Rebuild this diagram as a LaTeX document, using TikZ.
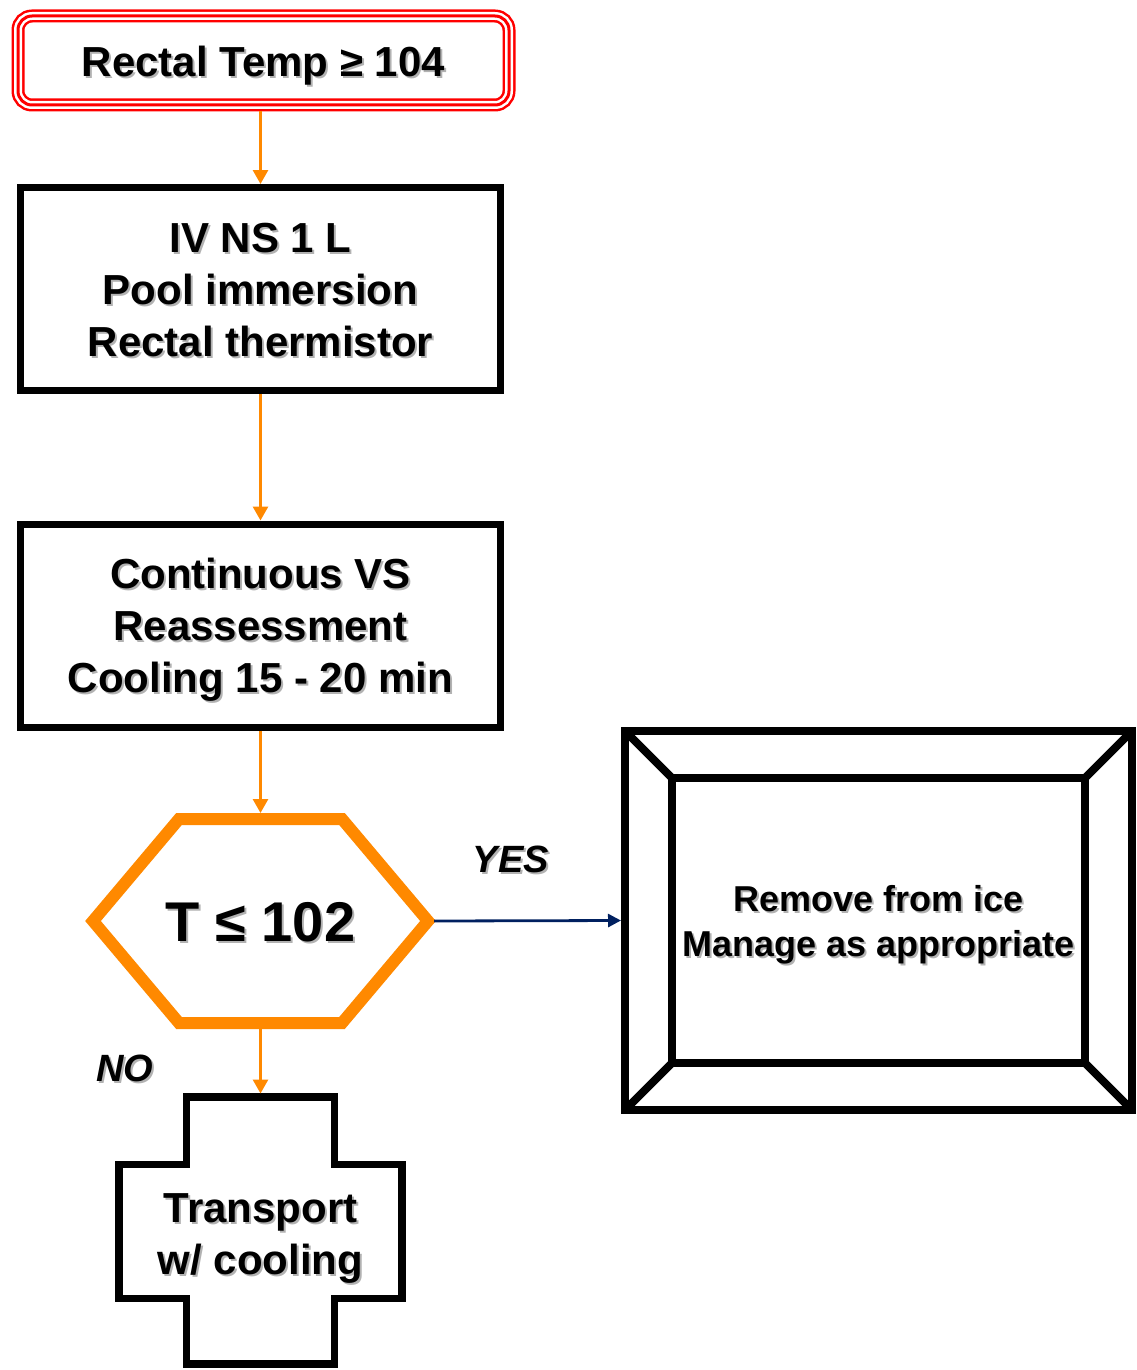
\documentclass[tikz,border=0pt]{standalone}
\usepackage{fontspec}
\setmainfont{Liberation Sans}
\usetikzlibrary{arrows.meta}
\definecolor{flowor}{RGB}{255,137,0}
\definecolor{flownavy}{RGB}{0,32,96}
\definecolor{flowred}{RGB}{255,0,0}
% text with a light drop shadow, optionally lowered
\newcommand\shd[2][0pt]{\leavevmode\raisebox{-#1}[\height][\depth]{\rlap{\kern1pt\raisebox{-1pt}{\color{black!30}#2}}#2}}
\begin{document}
\begin{tikzpicture}[x=.5pt,y=-.5pt,>={Triangle[length=7pt,width=7.5pt]},
  font=\bfseries\fontsize{21}{26}\selectfont,
  box/.style={draw,line width=3.5pt,minimum width=240pt,minimum height=101.5pt,align=center},
  orarrow/.style={->,draw=flowor,line width=1.4pt},
  navyarrow/.style={-{Triangle[length=6.5pt,width=6.5pt]},draw=flownavy,line width=1.4pt},
  lbl/.style={font=\bfseries\itshape\fontsize{19}{23}\selectfont}]
  \useasboundingbox (0,0) rectangle (1136,1370);
  \node[draw=flowred,line width=6.5pt,rounded corners=7pt,minimum width=245.5pt,minimum height=44.5pt,
    postaction={draw=white,line width=4pt},postaction={draw=flowred,line width=1.5pt}]
    (start) at (263.5,60.5) {\shd[3pt]{Rectal Temp ≥ 104}};
  \node[box] (iv) at (260.5,289) {\shd[1pt]{IV NS 1 L}\\\shd[1pt]{Pool immersion}\\\shd[1pt]{Rectal thermistor}};
  \node[box] (cont) at (260.5,625.5) {\shd[2.75pt]{Continuous VS}\\\shd[2.75pt]{Reassessment}\\\shd[2.75pt]{Cooling 15 - 20 min}};
  \node[minimum width=173.5pt,minimum height=108pt,outer sep=0pt,font=\bfseries\fontsize{28}{34}\selectfont]
    (tst) at (260.5,921) {\shd[1pt]{T ≤ 102}};
  \draw[flowor,line width=6pt] ([shift={(-167.5,0)}]tst.center) -- ([shift={(-81.5,-102)}]tst.center)
    -- ([shift={(81.5,-102)}]tst.center) -- ([shift={(167.5,0)}]tst.center)
    -- ([shift={(81.5,102)}]tst.center) -- ([shift={(-81.5,102)}]tst.center) -- cycle;
  \node[draw,line width=4pt,minimum width=253.5pt,minimum height=189.5pt,align=center,
    font=\bfseries\fontsize{18}{22.5}\selectfont]
    (manage) at (878.5,920.5) {\shd[2.75pt]{Remove from ice}\\\shd[2.75pt]{Manage as appropriate}};
  \draw[line width=4pt] ([shift={(-206.5,-142.5)}]manage.center) rectangle ([shift={(206.5,142.5)}]manage.center);
  \foreach \sx/\sy in {-1/-1,1/-1,1/1,-1/1}
    \draw[line width=4pt] ([shift={(253.5*\sx,189.5*\sy)}]manage.center) -- ([shift={(206.5*\sx,142.5*\sy)}]manage.center);
  \node[minimum width=145pt,minimum height=137pt,outer sep=0pt,align=center]
    (trans) at (260.5,1230.5) {\shd[4.25pt]{Transport}\\\shd[4.25pt]{w/ cooling}};
  \draw[line width=3.75pt] ([shift={(-74,-133.5)}]trans.center) -- ([shift={(74,-133.5)}]trans.center)
    -- ([shift={(74,-66)}]trans.center) -- ([shift={(141.5,-66)}]trans.center)
    -- ([shift={(141.5,68)}]trans.center) -- ([shift={(74,68)}]trans.center)
    -- ([shift={(74,133.5)}]trans.center) -- ([shift={(-74,133.5)}]trans.center)
    -- ([shift={(-74,68)}]trans.center) -- ([shift={(-141.5,68)}]trans.center)
    -- ([shift={(-141.5,-66)}]trans.center) -- ([shift={(-74,-66)}]trans.center) -- cycle;
  \draw[orarrow] (iv.north |- start.south) -- (iv.north);
  \draw[orarrow] (iv.south) -- (cont.north);
  \draw[orarrow] (cont.south) -- (tst.north);
  \draw[orarrow] (tst.south) -- (trans.north) node[lbl,pos=.62,xshift=-67.75pt] (no) {\shd{NO}};
  \draw[navyarrow] (tst.east) -- (manage.west) node[lbl,pos=.41,yshift=30pt] (yes) {\shd{YES}};
\end{tikzpicture}
\end{document}
